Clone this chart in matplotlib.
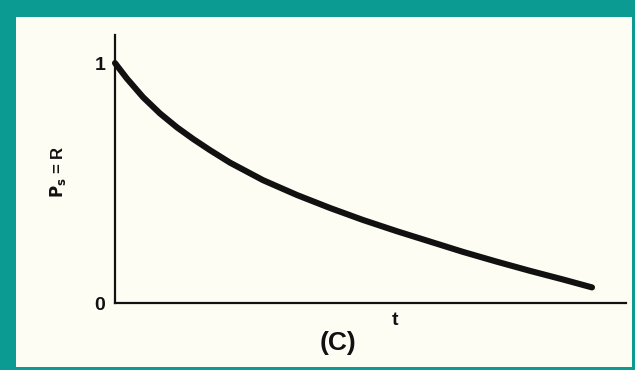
import matplotlib
matplotlib.use("Agg")
import matplotlib.pyplot as plt
from matplotlib.patches import Rectangle

# Data (t in arbitrary units, P_s = R in 0..1)
t_values = [0.0, 0.24, 0.56, 0.90, 1.24, 1.56, 1.90, 2.30, 2.96, 3.64, 4.30,
            4.96, 5.64, 6.30, 6.96, 7.64, 8.30, 8.96, 9.54]
r_values = [1.0, 0.935, 0.858, 0.790, 0.732, 0.684, 0.637, 0.585, 0.512, 0.450,
            0.396, 0.346, 0.299, 0.256, 0.213, 0.172, 0.134, 0.098, 0.065]
y_ticks = [0, 1]
y_tick_labels = ["0", "1"]
x_label = "t"
y_label = r"$\mathbf{P_s}$ = R"
panel_label = "(C)"

W, H = 635, 370
fig = plt.figure(figsize=(W / 100, H / 100), dpi=100)
fig.patch.set_facecolor("#0b9b92")
fig.patches.append(Rectangle((16 / W, 3 / H), 616 / W, 350 / H,
                             transform=fig.transFigure, facecolor="#fdfdf4",
                             edgecolor="none", zorder=-5))

x0, x1, y_top, y_bot = 115, 626, 35, 303
ax = fig.add_axes([x0 / W, (H - y_bot) / H, (x1 - x0) / W, (y_bot - y_top) / H])
ax.set_zorder(2)
ax.set_facecolor("none")
ax.set_xlim(0, 10.22)
ax.set_ylim(0, 1.117)

ax.plot(t_values, r_values, color="#111111", lw=4.4, solid_capstyle="round",
        solid_joinstyle="round", clip_on=False)

for s in ["top", "right"]:
    ax.spines[s].set_visible(False)
for s in ["left", "bottom"]:
    ax.spines[s].set_linewidth(1.6)
    ax.spines[s].set_color("#111111")

font = "Liberation Sans"
ax.set_xticks([])
ax.set_yticks(y_ticks)
ax.set_yticklabels(y_tick_labels, fontsize=14, fontfamily=font, fontweight="bold",
                   color="#111111")
ax.tick_params(axis="y", length=0, pad=7)

ax.set_xlabel(x_label, fontsize=14, fontfamily=font, fontweight="bold", color="#111111")
ax.xaxis.set_label_coords((395 - x0) / (x1 - x0), -(312 - y_bot) / (y_bot - y_top))
ax.xaxis.label.set_va("top")

ax.set_ylabel(y_label, fontsize=12, fontfamily=font, fontweight="bold", color="#111111")
ax.yaxis.set_label_coords(-(x0 - 58) / (x1 - x0), (y_bot - 172) / (y_bot - y_top))
ax.yaxis.label.set_va("center")

fig.text(338 / W, (H - 343) / H, panel_label, fontsize=19, fontfamily=font,
         fontweight="bold", color="#111111", ha="center", va="center", zorder=3)

fig.savefig("out.png", dpi=100, facecolor=fig.get_facecolor())
